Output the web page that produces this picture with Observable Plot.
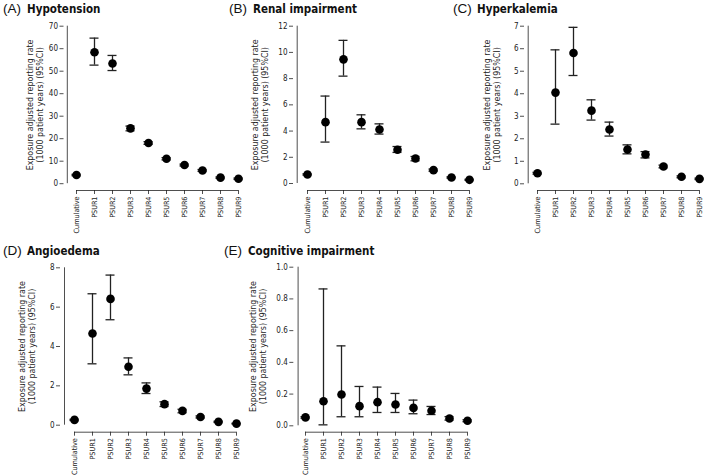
<!DOCTYPE html>
<html><head><meta charset="utf-8">
<script src="https://cdn.jsdelivr.net/npm/d3@7"></script>
<script src="https://cdn.jsdelivr.net/npm/@observablehq/plot@0.6"></script>
<style>
body{margin:0;background:#fff;}
#fig{position:relative;width:709px;height:476px;overflow:hidden;background:#fff;}
.panel{position:absolute;}
.title{position:absolute;white-space:nowrap;color:#111;line-height:1;}
.tag{position:absolute;font-family:"Liberation Sans",Arial,sans-serif;font-size:13.5px;}
.name{position:absolute;font-family:"Liberation Sans Narrow","Arial Narrow","DejaVu Sans Condensed","Liberation Sans",sans-serif;font-weight:bold;font-size:11.5px;}
</style></head><body><div id="fig"></div>
<script>
const categories = ["Cumulative","PSUR1","PSUR2","PSUR3","PSUR4","PSUR5","PSUR6","PSUR7","PSUR8","PSUR9"];
const yLabel = "Exposure adjusted reporting rate\n(1000 patient years) (95%CI)";

const tags = ["(A)","(B)","(C)","(D)","(E)"];
const names = ["Hypotension","Renal impairment","Hyperkalemia","Angioedema","Cognitive impairment"];

const hypotensionRate = [3.85, 58.4, 53.4, 24.6, 18.1, 11.1, 8.3, 5.9, 2.7, 2.2];
const hypotensionLow  = [3.55, 52.7, 50.3, 23.5, 17.5, 10.6, 7.9, 5.5, 2.4, 1.9];
const hypotensionHigh = [4.15, 64.7, 57.0, 25.6, 18.7, 11.6, 8.7, 6.3, 3.0, 2.5];
const hypotensionTicks = [0, 10, 20, 30, 40, 50, 60, 70];

const renalRate = [0.69, 4.68, 9.47, 4.68, 4.12, 2.57, 1.91, 1.02, 0.46, 0.28];
const renalLow  = [0.64, 3.16, 8.19, 4.17, 3.77, 2.37, 1.73, 0.94, 0.41, 0.24];
const renalHigh = [0.74, 6.67, 10.92, 5.24, 4.55, 2.82, 2.06, 1.10, 0.51, 0.32];
const renalTicks = [0, 2, 4, 6, 8, 10, 12];

const hyperkalemiaRate = [0.47, 4.05, 5.81, 3.25, 2.41, 1.52, 1.30, 0.77, 0.31, 0.22];
const hyperkalemiaLow  = [0.43, 2.65, 4.81, 2.83, 2.12, 1.33, 1.15, 0.71, 0.27, 0.19];
const hyperkalemiaHigh = [0.51, 5.95, 6.95, 3.73, 2.74, 1.73, 1.43, 0.83, 0.35, 0.25];
const hyperkalemiaTicks = [0, 1, 2, 3, 4, 5, 6, 7];

const angioedemaRate = [0.27, 4.66, 6.42, 2.97, 1.86, 1.07, 0.73, 0.42, 0.17, 0.08];
const angioedemaLow  = [0.24, 3.12, 5.36, 2.56, 1.61, 0.95, 0.63, 0.37, 0.14, 0.06];
const angioedemaHigh = [0.30, 6.68, 7.63, 3.42, 2.15, 1.19, 0.81, 0.47, 0.20, 0.10];
const angioedemaTicks = [0, 2, 4, 6, 8];

const cognitiveRate = [0.053, 0.155, 0.197, 0.124, 0.149, 0.134, 0.113, 0.095, 0.046, 0.032];
const cognitiveLow  = [0.048, 0.006, 0.057, 0.057, 0.084, 0.084, 0.076, 0.071, 0.036, 0.026];
const cognitiveHigh = [0.058, 0.863, 0.504, 0.248, 0.244, 0.204, 0.162, 0.122, 0.058, 0.038];
const cognitiveTicks = [0, 0.2, 0.4, 0.6, 0.8, 1.0];

const narrow = '"Liberation Sans Narrow","Arial Narrow","DejaVu Sans Condensed","Liberation Sans",sans-serif';

// layout (pixel geometry of each panel)
const layouts = [
  {left:0,   top:0,   width:245, height:235, axisX:63.5,  firstX:72.7,  lastX:241.7, topY:25.7,  zeroY:183.2, xAxisY:190,   labelDx:-29.5, tagX:3,   nameX:27,  titleY:2},
  {left:235, top:0,   width:243, height:235, axisX:293,   firstX:303.3, lastX:472.3, topY:25.7,  zeroY:183,   xAxisY:190,   labelDx:-33.5, tagX:229, nameX:253, titleY:2},
  {left:470, top:0,   width:239, height:235, axisX:524,   firstX:533.3, lastX:703.3, topY:25.7,  zeroY:183.3, xAxisY:190,   labelDx:-33,   tagX:453, nameX:477, titleY:2},
  {left:0,   top:235, width:245, height:241, axisX:60,    firstX:70,    lastX:240,   topY:267.3, zeroY:424.7, xAxisY:431.7, labelDx:-33.5, tagX:3,   nameX:27,  titleY:244},
  {left:235, top:235, width:243, height:241, axisX:293.3, firstX:300.7, lastX:470.7, topY:266.7, zeroY:425.3, xAxisY:431.7, labelDx:-36,   tagX:224, nameX:248, titleY:244}
];

const series = [
  [hypotensionRate, hypotensionLow, hypotensionHigh, hypotensionTicks, d3.format("d")],
  [renalRate, renalLow, renalHigh, renalTicks, d3.format("d")],
  [hyperkalemiaRate, hyperkalemiaLow, hyperkalemiaHigh, hyperkalemiaTicks, d3.format("d")],
  [angioedemaRate, angioedemaLow, angioedemaHigh, angioedemaTicks, d3.format("d")],
  [cognitiveRate, cognitiveLow, cognitiveHigh, cognitiveTicks, d3.format(".1f")]
];

const fig = document.getElementById("fig");

layouts.forEach((L, k) => {
  const [rate, lo, hi, ticks, fmt] = series[k];
  const data = categories.map((c, i) => ({cat: c, rate: rate[i], lo: lo[i], hi: hi[i]}));
  const yMax = ticks[ticks.length - 1];
  const marginLeft = L.axisX - L.left;
  const insetLeft = L.firstX - L.axisX;
  const marginRight = L.left + L.width - L.lastX;
  const marginTop = L.topY - L.top;
  const marginBottom = L.top + L.height - L.xAxisY;
  const insetBottom = L.xAxisY - L.zeroY;
  const ink = "#222";
  const plot = Plot.plot({
    width: L.width, height: L.height,
    marginLeft, marginRight, marginTop, marginBottom,
    insetLeft, insetRight: 0, insetTop: 0, insetBottom,
    style: {fontFamily: narrow, fontSize: "8px", color: ink, background: "transparent", overflow: "visible"},
    x: {type: "point", domain: categories, padding: 0},
    y: {domain: [0, yMax]},
    marks: [
      Plot.ruleX([categories[0]], {x: d => d, y1: () => 0, y2: () => yMax, dx: -insetLeft, stroke: ink, strokeWidth: 0.8}),
      Plot.ruleY([0], {y: d => d, x1: () => categories[0], x2: () => categories[categories.length - 1], dy: insetBottom, stroke: ink, strokeWidth: 0.8}),
      Plot.axisY({ticks, tickFormat: fmt, tickSize: 4, tickPadding: 2, label: null, fontSize: 8, strokeWidth: 0.8}),
      Plot.axisX({tickSize: 4, tickPadding: 2, tickRotate: -90, label: null, fontSize: 7.2, strokeWidth: 0.8}),
      Plot.ruleX(data, {x: "cat", y1: "lo", y2: "hi", stroke: ink, strokeWidth: 1.3}),
      Plot.ruleY(data, {x1: "cat", x2: "cat", y: "lo", insetLeft: -4.5, insetRight: -4.5, stroke: ink, strokeWidth: 1.3}),
      Plot.ruleY(data, {x1: "cat", x2: "cat", y: "hi", insetLeft: -4.5, insetRight: -4.5, stroke: ink, strokeWidth: 1.3}),
      Plot.dot(data, {x: "cat", y: "rate", r: 4.3, fill: "#000", stroke: null}),
      Plot.text([yLabel], {frameAnchor: "left", text: d => d, rotate: -90, textAnchor: "middle", lineAnchor: "middle", dx: L.labelDx, dy: -insetBottom / 2, fontSize: 8.8, lineHeight: 1.15, fill: ink})
    ]
  });
  const wrap = document.createElement("div");
  wrap.className = "panel";
  wrap.style.left = L.left + "px";
  wrap.style.top = L.top + "px";
  wrap.appendChild(plot);
  fig.appendChild(wrap);

  const t = document.createElement("div");
  t.className = "tag title";
  t.style.left = L.tagX + "px";
  t.style.top = L.titleY + "px";
  t.textContent = tags[k];
  fig.appendChild(t);
  const n = document.createElement("div");
  n.className = "name title";
  n.style.left = L.nameX + "px";
  n.style.top = (L.titleY + 1.5) + "px";
  n.textContent = names[k];
  fig.appendChild(n);
});
</script>
</body></html>
